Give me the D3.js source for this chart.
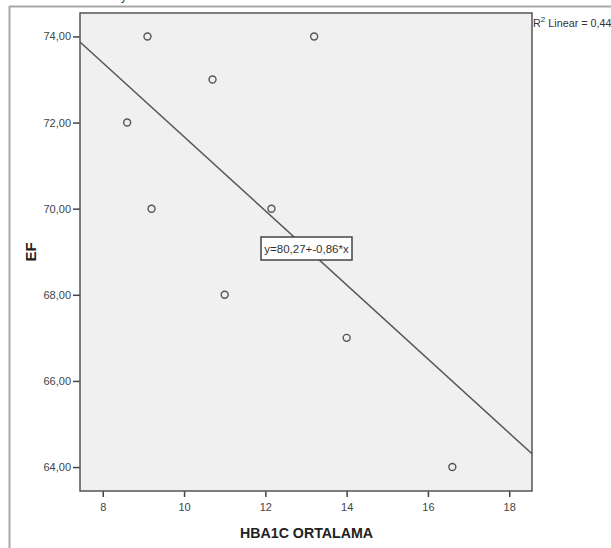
<!DOCTYPE html>
<html>
<head>
<meta charset="utf-8">
<script src="https://cdn.jsdelivr.net/npm/d3@7"></script>
<style>
  body { margin: 0; background: #fff; }
  text { font-family: "Liberation Sans", Arial, sans-serif; }
</style>
</head>
<body>
<div class="chart"></div>
<script>
// data
var hba1c = [9.1, 13.2, 10.7, 8.6, 9.2, 12.15, 11.0, 14.0, 16.6];
var ef = [74, 74, 73, 72, 70, 70, 68, 67, 64];
var xTicks = [8, 10, 12, 14, 16, 18];
var yTicks = [64, 66, 68, 70, 72, 74];
var fit = { intercept: 80.27, slope: -0.86 };
var fitLabel = "y=80,27+-0,86*x";
var r2Label = "Linear = 0,447";

var svgWidth = 611, svgHeight = 548;
var margin = { top: 13, left: 80, right: 79, bottom: 57 };
var width = svgWidth - margin.left - margin.right;
var height = svgHeight - margin.top - margin.bottom;

var svg = d3.select(".chart").append("svg")
  .attr("width", svgWidth)
  .attr("height", svgHeight);

// outer frame
svg.append("line").attr("x1", 9).attr("x2", svgWidth).attr("y1", 6.5).attr("y2", 6.5)
  .attr("stroke", "#a8a8a8").attr("stroke-width", 2);
svg.append("line").attr("x1", 9.5).attr("x2", 9.5).attr("y1", 6).attr("y2", svgHeight)
  .attr("stroke", "#a8a8a8").attr("stroke-width", 2);
svg.append("text").attr("x", 121).attr("y", 0).attr("font-size", 12).attr("fill", "#333").text("y");

var chartGroup = svg.append("g")
  .attr("transform", `translate(${margin.left}, ${margin.top})`);

var xScale = d3.scaleLinear().domain([7.44, 18.56]).range([0, width]);
var yScale = d3.scaleLinear().domain([63.444, 74.544]).range([height, 0]);

chartGroup.append("rect")
  .attr("width", width).attr("height", height)
  .attr("fill", "#f0f0f0");

// axes
var xAxis = d3.axisBottom(xScale).tickValues(xTicks).tickSize(6).tickPadding(6)
  .tickFormat(d3.format("d"));
var yAxis = d3.axisLeft(yScale).tickValues(yTicks).tickSize(7).tickPadding(2)
  .tickFormat(d => d.toFixed(2).replace(".", ","));

var gx = chartGroup.append("g").attr("transform", `translate(0, ${height})`).call(xAxis);
var gy = chartGroup.append("g").call(yAxis);
[gx, gy].forEach(g => {
  g.select(".domain").remove();
  g.selectAll("line").attr("stroke", "#444").attr("stroke-width", 1.5);
  g.selectAll("text").attr("fill", "#444").attr("font-size", 11)
    .attr("font-family", "Liberation Sans, Arial, sans-serif");
});

// regression line
var line = d3.line().x(d => xScale(d)).y(d => yScale(fit.intercept + fit.slope * d));
chartGroup.append("path")
  .datum(xScale.domain())
  .attr("d", line)
  .attr("fill", "none")
  .attr("stroke", "#555")
  .attr("stroke-width", 1.5);

// points
chartGroup.selectAll("circle")
  .data(hba1c)
  .enter()
  .append("circle")
  .attr("cx", d => xScale(d))
  .attr("cy", (d, i) => yScale(ef[i]))
  .attr("r", 3.5)
  .attr("fill", "none")
  .attr("stroke", "#555")
  .attr("stroke-width", 1.4);

// plot border
chartGroup.append("rect")
  .attr("width", width).attr("height", height)
  .attr("fill", "none").attr("stroke", "#555").attr("stroke-width", 1.5);

// fit equation label
var lbl = chartGroup.append("g").attr("transform", `translate(${261 - margin.left}, ${237 - margin.top})`);
lbl.append("rect").attr("x", 0).attr("y", 0).attr("width", 91).attr("height", 23)
  .attr("fill", "#fff").attr("stroke", "#444").attr("stroke-width", 1.5);
lbl.append("text").attr("x", 45.5).attr("y", 16).attr("text-anchor", "middle")
  .attr("font-size", 11.5).attr("fill", "#333").text(fitLabel);

// R2 label
var r2 = svg.append("text").attr("x", margin.left + width + 1).attr("y", 27)
  .attr("font-size", 10.8).attr("fill", "#333");
r2.append("tspan").text("R");
r2.append("tspan").attr("dy", -5).attr("font-size", 8).text("2");
r2.append("tspan").attr("dy", 5).text(" " + r2Label);

// axis titles
svg.append("text")
  .attr("transform", `translate(36, ${252}) rotate(-90)`)
  .attr("text-anchor", "middle")
  .attr("font-size", 15).attr("font-weight", "bold").attr("fill", "#222")
  .text("EF");
svg.append("text")
  .attr("x", 240).attr("y", 538)
  .attr("textLength", 133).attr("lengthAdjust", "spacingAndGlyphs")
  .attr("font-size", 15.5).attr("font-weight", "bold").attr("fill", "#222")
  .text("HBA1C ORTALAMA");
</script>
</body>
</html>
